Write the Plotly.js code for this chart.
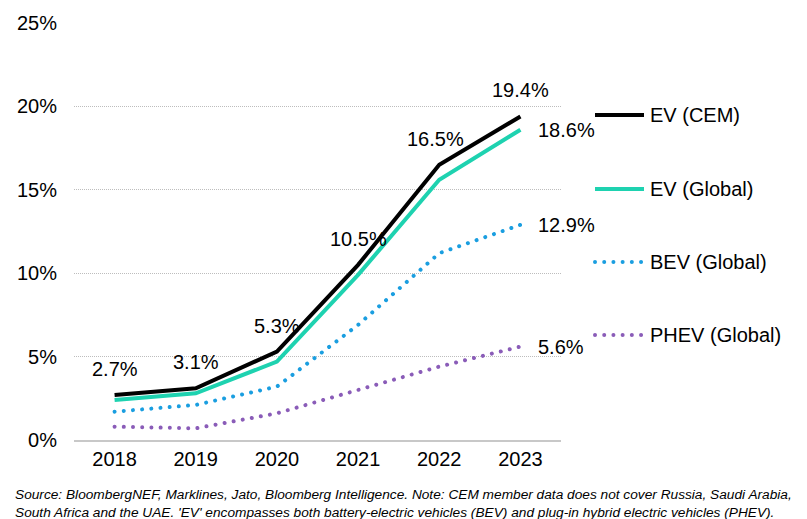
<!DOCTYPE html>
<html>
<head>
<meta charset="utf-8">
<script src="https://cdn.plot.ly/plotly-3.0.1.min.js"></script>
<style>
html,body{margin:0;padding:0;background:#fff;overflow:hidden;}
#chart{width:807px;height:519px;}
</style>
</head>
<body>
<div id="chart"></div>
<script>
var years = ['2018','2019','2020','2021','2022','2023'];
var evCEM = [2.7, 3.1, 5.3, 10.5, 16.5, 19.4];
var evGlobal = [2.4, 2.8, 4.7, 9.9, 15.6, 18.6];
var bevGlobal = [1.7, 2.1, 3.2, 6.9, 11.2, 12.9];
var phevGlobal = [0.8, 0.7, 1.6, 3.0, 4.4, 5.6];
var seriesNames = ['EV (CEM)', 'EV (Global)', 'BEV (Global)', 'PHEV (Global)'];
var yTickVals = [0, 5, 10, 15, 20, 25];
var yTickText = ['0%', '5%', '10%', '15%', '20%', '25%'];
var footnote = "Source: BloombergNEF, Marklines, Jato, Bloomberg Intelligence. Note: CEM member data does not cover Russia, Saudi Arabia,<br>South Africa and the UAE. 'EV' encompasses both battery-electric vehicles (BEV) and plug-in hybrid electric vehicles (PHEV).";

var colors = ['#000000', '#1ED2B0', '#1A9EE0', '#8A5CB8'];
var dashes = ['solid', 'solid', 'dot', 'dot'];
var widths = [4, 4, 4, 4];
var allSeries = [evCEM, evGlobal, bevGlobal, phevGlobal];

var traces = [];
for (var s = allSeries.length - 1; s >= 0; s--) {
  traces.push({
    x: years, y: allSeries[s], type: 'scatter', mode: 'lines',
    name: seriesNames[s],
    line: {color: colors[s], width: widths[s], dash: dashes[s]},
    showlegend: false, hoverinfo: 'skip'
  });
}

var font = {family: 'Liberation Sans, Arial, sans-serif', size: 20, color: '#000'};
var annotations = [];
for (var i = 0; i < years.length; i++) {
  annotations.push({
    x: i, y: evCEM[i], xref: 'x', yref: 'y', text: evCEM[i].toFixed(1) + '%',
    showarrow: false, yshift: 26, xshift: (i === 4 ? -4 : 0), font: font,
    xanchor: 'center', yanchor: 'middle'
  });
}
var last = years.length - 1;
[evGlobal, bevGlobal, phevGlobal].forEach(function (arr) {
  annotations.push({
    x: last, y: arr[last], xref: 'x', yref: 'y', text: arr[last].toFixed(1) + '%',
    showarrow: false, xshift: 16, font: font, xanchor: 'left', yanchor: 'middle'
  });
});

var shapes = [];
var legendY = [115, 189, 262, 335];
var plotTop = 23, plotH = 417;
function pxToPaperY(py) { return (plotTop + plotH - py) / plotH; }
var plotL = 74, plotW = 487;
function pxToPaperX(px) { return (px - plotL) / plotW; }
for (var k = 0; k < seriesNames.length; k++) {
  var py = pxToPaperY(legendY[k]);
  shapes.push({
    type: 'line', xref: 'paper', yref: 'paper',
    x0: pxToPaperX(595), x1: pxToPaperX(644), y0: py, y1: py,
    line: {color: colors[k], width: widths[k], dash: dashes[k]}
  });
  annotations.push({
    xref: 'paper', yref: 'paper', x: pxToPaperX(648), y: py, text: seriesNames[k],
    showarrow: false, xanchor: 'left', yanchor: 'middle', font: font
  });
}
annotations.push({
  xref: 'paper', yref: 'paper', x: pxToPaperX(13), y: pxToPaperY(503),
  text: footnote, showarrow: false, xanchor: 'left', yanchor: 'middle', align: 'left',
  font: {family: 'Liberation Sans, Arial, sans-serif', size: 13.7, color: '#000', style: 'italic'}
});

var layout = {
  width: 807, height: 519,
  margin: {l: plotL, r: 807 - plotL - plotW, t: plotTop, b: 519 - plotTop - plotH},
  paper_bgcolor: '#fff', plot_bgcolor: '#fff',
  font: font,
  showlegend: false,
  xaxis: {
    type: 'category', range: [-0.5, 5.5], showgrid: false, zeroline: false,
    showline: true, linecolor: '#c8c8c8', linewidth: 1.5,
    ticks: '', tickfont: font, fixedrange: true
  },
  yaxis: {
    range: [0, 25], tickvals: yTickVals, ticktext: yTickText,
    showgrid: true, gridcolor: '#bdbdbd', griddash: '1px,1px', gridwidth: 1,
    zeroline: false, showline: false, ticks: '', ticklabelstandoff: 16,
    tickfont: font, fixedrange: true
  },
  annotations: annotations,
  shapes: shapes
};

Plotly.newPlot('chart', traces, layout, {displayModeBar: false, staticPlot: true}).then(function () {
  var paths = document.querySelectorAll('.scatterlayer .js-line, .shapelayer path');
  paths.forEach(function (p) {
    var da = p.style.strokeDasharray || p.getAttribute('stroke-dasharray');
    if (da && da !== 'none' && da !== '') {
      p.style.strokeDasharray = '0.01px 9.2px';
      p.style.strokeLinecap = 'round';
    }
  });
});
</script>
</body>
</html>
